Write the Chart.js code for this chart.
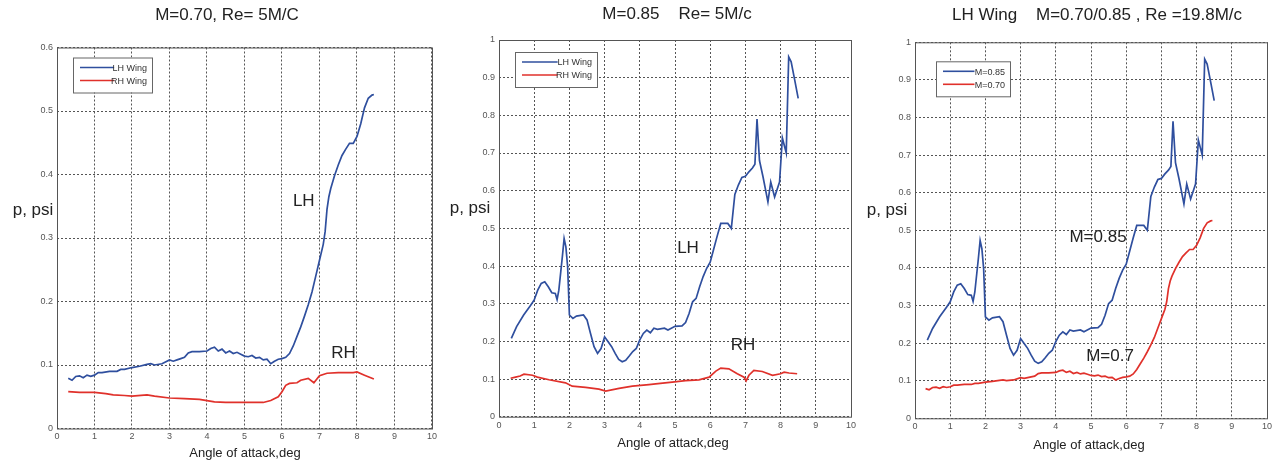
<!DOCTYPE html>
<html>
<head>
<meta charset="utf-8">
<script src="https://cdn.jsdelivr.net/npm/chart.js@4.4.1/dist/chart.umd.min.js"></script>
<style>
  body { margin: 0; background: #fff; }
  .wrap { position: relative; width: 1278px; height: 463px; overflow: hidden; }
  canvas { position: absolute; top: 0; }
</style>
</head>
<body>
<div class="wrap">
  <canvas id="c1" width="440" height="463" style="left:0px"></canvas>
  <canvas id="c2" width="420" height="463" style="left:440px"></canvas>
  <canvas id="c3" width="418" height="463" style="left:860px"></canvas>
</div>
<script>
// M=0.70 LH wing
const lh70X = [0.3,0.4,0.5,0.6,0.7,0.8,0.9,1.0,1.1,1.2,1.4,1.6,1.7,1.8,2.0,2.2,2.4,2.5,2.6,2.8,3.0,3.1,3.2,3.3,3.4,3.5,3.6,3.8,4.0,4.1,4.2,4.3,4.4,4.5,4.6,4.7,4.8,4.9,5.0,5.1,5.2,5.3,5.4,5.5,5.6,5.7,5.8,5.9,6.0,6.1,6.2,6.3,6.4,6.5,6.6,6.7,6.8,6.9,7.0,7.1,7.15,7.2,7.25,7.3,7.4,7.5,7.6,7.7,7.8,7.9,8.0,8.1,8.2,8.3,8.4,8.45];
const lh70Y = [0.079,0.076,0.082,0.083,0.080,0.084,0.082,0.084,0.088,0.088,0.090,0.090,0.093,0.093,0.096,0.098,0.101,0.102,0.100,0.102,0.108,0.106,0.108,0.110,0.112,0.119,0.121,0.121,0.122,0.126,0.128,0.122,0.125,0.119,0.122,0.118,0.120,0.117,0.114,0.113,0.115,0.111,0.112,0.108,0.109,0.102,0.106,0.109,0.110,0.112,0.118,0.130,0.145,0.160,0.177,0.195,0.215,0.240,0.265,0.290,0.310,0.345,0.365,0.378,0.398,0.415,0.430,0.440,0.449,0.449,0.460,0.480,0.505,0.520,0.525,0.526];

// M=0.70 RH wing
const rh70X = [0.3,0.6,1.0,1.3,1.5,1.8,2.0,2.4,2.6,3.0,3.4,3.8,4.0,4.2,4.5,5.0,5.5,5.7,5.9,6.0,6.1,6.2,6.4,6.5,6.7,6.85,7.0,7.2,7.5,7.9,8.0,8.2,8.45];
const rh70Y = [0.058,0.057,0.057,0.055,0.053,0.052,0.051,0.053,0.051,0.048,0.047,0.046,0.044,0.042,0.041,0.041,0.041,0.044,0.050,0.058,0.068,0.071,0.072,0.076,0.079,0.072,0.083,0.087,0.088,0.088,0.089,0.084,0.078];

// M=0.85 LH wing
const lh85X = [0.35,0.5,0.7,0.9,1.0,1.1,1.2,1.3,1.4,1.5,1.6,1.65,1.7,1.8,1.85,1.9,1.95,2.0,2.1,2.2,2.4,2.5,2.6,2.7,2.8,2.9,3.0,3.1,3.2,3.3,3.4,3.5,3.6,3.7,3.8,3.9,4.0,4.1,4.2,4.3,4.4,4.5,4.7,4.8,5.0,5.2,5.3,5.4,5.5,5.6,5.7,5.8,5.9,6.0,6.1,6.2,6.3,6.5,6.6,6.7,6.8,6.9,7.0,7.1,7.2,7.27,7.33,7.4,7.5,7.64,7.72,7.83,7.97,8.05,8.16,8.23,8.3,8.4,8.5];
const lh85Y = [0.208,0.239,0.270,0.296,0.310,0.336,0.354,0.358,0.345,0.329,0.327,0.311,0.336,0.425,0.473,0.451,0.398,0.270,0.261,0.267,0.270,0.257,0.221,0.186,0.168,0.181,0.212,0.199,0.186,0.168,0.152,0.146,0.150,0.161,0.173,0.181,0.204,0.221,0.230,0.223,0.235,0.232,0.235,0.230,0.240,0.241,0.250,0.274,0.305,0.314,0.345,0.372,0.394,0.410,0.445,0.480,0.513,0.513,0.500,0.590,0.615,0.635,0.638,0.650,0.660,0.670,0.790,0.680,0.637,0.570,0.623,0.583,0.623,0.740,0.700,0.955,0.942,0.894,0.845];

// M=0.85 RH wing
const rh85X = [0.33,0.47,0.6,0.71,0.95,1.09,1.42,1.89,2.08,2.46,2.84,3.03,3.41,3.79,4.26,4.45,4.92,5.3,5.68,5.97,6.16,6.3,6.53,6.77,6.96,7.02,7.1,7.24,7.48,7.77,8.0,8.1,8.24,8.47];
const rh85Y = [0.102,0.105,0.108,0.113,0.110,0.105,0.098,0.090,0.081,0.078,0.073,0.068,0.075,0.081,0.085,0.087,0.092,0.096,0.098,0.105,0.121,0.129,0.127,0.114,0.105,0.095,0.110,0.123,0.120,0.110,0.114,0.118,0.116,0.114];

const titles = ["M=0.70, Re= 5M/C", "M=0.85    Re= 5M/c", "LH Wing    M=0.70/0.85 , Re =19.8M/c"];
const yMax = [0.6, 1, 1];
const xLabel = "Angle of attack,deg";
const yLabel = "p, psi";

const BLUE = "#2f4f9e";
const RED = "#e0312b";
const FONT = "'Liberation Sans', Arial, sans-serif";

const pts = (xs, ys) => xs.map((x, i) => ({ x: x, y: ys[i] }));

// vẽ khung, tiêu đề, nhãn trục, chú thích và chữ trên biểu đồ
const decor = {
    id: "decor",
    afterDraw(chart, args, o) {
        const ctx = chart.ctx;
        const a = chart.chartArea;
        const { x, y } = chart.scales;
        ctx.save();
        ctx.strokeStyle = "#555";
        ctx.lineWidth = 1;
        ctx.strokeRect(a.left + 0.5, a.top + 0.5, a.width, a.height);

        ctx.fillStyle = "#222";
        ctx.textAlign = "center";
        ctx.textBaseline = "middle";
        ctx.font = "17px " + FONT;
        ctx.fillText(o.title, o.titleX, o.titleY);
        ctx.font = "17px " + FONT;
        ctx.fillText(yLabel, o.yLabelX, o.yLabelY);
        ctx.font = "13px " + FONT;
        ctx.fillText(xLabel, o.xLabelX, o.xLabelY);

        // chữ chú thích trên đường cong
        ctx.font = "17px " + FONT;
        o.notes.forEach(n => {
            ctx.fillText(n.text, x.getPixelForValue(n.x), y.getPixelForValue(n.y));
        });

        // hộp chú giải
        const lx = a.left + o.legendDx, ly = a.top + o.legendDy, lw = o.legendW, lh = 35;
        ctx.fillStyle = "#fff";
        ctx.fillRect(lx, ly, lw, lh);
        ctx.strokeStyle = "#666";
        ctx.strokeRect(lx + 0.5, ly + 0.5, lw, lh);
        ctx.font = "9px " + FONT;
        ctx.textAlign = "right";
        chart.data.datasets.forEach((ds, i) => {
            const yy = ly + 10 + i * 13;
            ctx.strokeStyle = ds.borderColor;
            ctx.lineWidth = 1.6;
            ctx.beginPath();
            ctx.moveTo(lx + 7, yy);
            ctx.lineTo(lx + lw * 0.52, yy);
            ctx.stroke();
            ctx.fillStyle = "#333";
            ctx.fillText(ds.label, lx + lw - 5, yy + 1);
        });
        ctx.restore();
    }
};

function makePanel(id, datasets, opt) {
    const canvas = document.getElementById(id);
    return new Chart(canvas.getContext("2d"), {
        type: "line",
        data: { datasets: datasets },
        options: {
            responsive: false,
            animation: false,
            layout: { padding: { left: 0, top: opt.top, right: opt.right, bottom: 0 } },
            elements: { point: { radius: 0 }, line: { borderWidth: 1.7, tension: 0 } },
            plugins: {
                legend: { display: false },
                tooltip: { enabled: false },
                decor: opt.decor
            },
            scales: {
                x: {
                    type: "linear",
                    min: 0, max: 10,
                    ticks: { stepSize: 1, color: "#555", font: { size: 9, family: FONT }, padding: 3, maxRotation: 0 },
                    grid: { color: "#555", lineWidth: 1, drawTicks: false },
                    border: { display: false, dash: [2, 2] },
                    afterFit: s => { s.height = canvas.height - opt.bottom; }
                },
                y: {
                    min: 0, max: opt.yMax,
                    ticks: {
                        stepSize: 0.1, color: "#555", font: { size: 9, family: FONT }, padding: 4,
                        callback: v => String(Math.round(v * 10) / 10)
                    },
                    grid: { color: "#555", lineWidth: 1, drawTicks: false },
                    border: { display: false, dash: [2, 2] },
                    afterFit: s => { s.width = opt.left; }
                }
            }
        },
        plugins: [decor]
    });
}

makePanel("c1", [
    { label: "LH Wing", data: pts(lh70X, lh70Y), borderColor: BLUE },
    { label: "RH Wing", data: pts(rh70X, rh70Y), borderColor: RED }
], {
    left: 57, right: 6, top: 47.5, bottom: 428.5, yMax: yMax[0],
    decor: {
        title: titles[0], titleX: 227, titleY: 15,
        yLabelX: 33, yLabelY: 210, xLabelX: 245, xLabelY: 453,
        legendDx: 16, legendDy: 10, legendW: 79,
        notes: [{ text: "LH", x: 6.58, y: 0.357 }, { text: "RH", x: 7.64, y: 0.119 }]
    }
});

makePanel("c2", [
    { label: "LH Wing", data: pts(lh85X, lh85Y), borderColor: BLUE },
    { label: "RH Wing", data: pts(rh85X, rh85Y), borderColor: RED }
], {
    left: 59, right: 9, top: 40, bottom: 416.7, yMax: yMax[1],
    decor: {
        title: titles[1], titleX: 237, titleY: 14,
        yLabelX: 30, yLabelY: 208, xLabelX: 233, xLabelY: 443,
        legendDx: 16, legendDy: 12, legendW: 82,
        notes: [{ text: "LH", x: 5.37, y: 0.448 }, { text: "RH", x: 6.93, y: 0.19 }]
    }
});

makePanel("c3", [
    { label: "M=0.85", data: pts(lh85X, lh85Y), borderColor: BLUE },
    { label: "M=0.70", data: pts(lh70X, lh70Y), borderColor: RED }
], {
    left: 55, right: 11, top: 42.3, bottom: 418.3, yMax: yMax[2],
    decor: {
        title: titles[2], titleX: 237, titleY: 15,
        yLabelX: 27, yLabelY: 210, xLabelX: 229, xLabelY: 445,
        legendDx: 21, legendDy: 19, legendW: 74,
        notes: [{ text: "M=0.85", x: 5.2, y: 0.482 }, { text: "M=0.7", x: 5.54, y: 0.166 }]
    }
});
</script>
</body>
</html>
